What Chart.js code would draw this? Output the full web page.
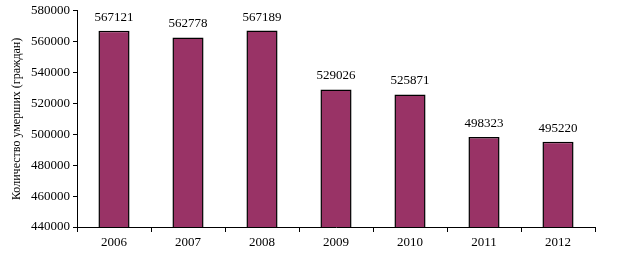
<!DOCTYPE html>
<html>
<head>
<meta charset="utf-8">
<script src="https://cdn.jsdelivr.net/npm/chart.js@4"></script>
<style>
  html, body { margin: 0; padding: 0; background: #fff; }
  #wrap { width: 619px; height: 253px; }
</style>
</head>
<body>
<div id="wrap"><canvas id="deaths"></canvas></div>
<script>
"use strict";

const years = ["2006", "2007", "2008", "2009", "2010", "2011", "2012"];
const deaths = [567121, 562778, 567189, 529026, 525871, 498323, 495220];
const yMin = 440000;
const yMax = 580000;
const yStep = 20000;

const serif = "'Liberation Serif', 'Times New Roman', serif";

// values printed above each bar
const barLabels = {
  id: "barLabels",
  afterDatasetsDraw(chart) {
    const ctx = chart.ctx;
    const meta = chart.getDatasetMeta(0);
    ctx.save();
    ctx.font = "13px " + serif;
    ctx.fillStyle = "#000";
    ctx.textAlign = "center";
    ctx.textBaseline = "bottom";
    meta.data.forEach((bar, i) => {
      ctx.fillText(String(deaths[i]), bar.x, bar.y - 7);
    });
    ctx.restore();
  },
};

var ctx = document.getElementById("deaths").getContext("2d");
var chart = new Chart(ctx, {
  type: "bar",
  data: {
    labels: years,
    datasets: [
      {
        data: deaths,
        backgroundColor: "#993366",
        borderColor: "#000",
        borderWidth: 1.5,
        borderSkipped: false,
        categoryPercentage: 1,
        barPercentage: 0.42,
      },
    ],
  },
  options: {
    responsive: true,
    maintainAspectRatio: false,
    animation: false,
    layout: { padding: { top: 9, right: 24, left: 0, bottom: 0 } },
    plugins: {
      legend: { display: false },
      tooltip: { enabled: false },
    },
    scales: {
      x: {
        grid: {
          offset: true,
          drawOnChartArea: false,
          color: "#000",
          tickLength: 5,
        },
        border: { color: "#000" },
        ticks: { color: "#000", font: { family: serif, size: 13 }, padding: 3 },
        afterFit: (s) => { s.height = 26; },
      },
      y: {
        min: yMin,
        max: yMax,
        grid: {
          drawOnChartArea: false,
          color: "#000",
          tickLength: 4,
        },
        border: { color: "#000" },
        ticks: {
          stepSize: yStep,
          color: "#000",
          font: { family: serif, size: 13 },
          padding: 3,
          callback: (v) => String(v),
        },
        title: {
          display: true,
          text: "Количество умерших (граждан)",
          color: "#000",
          font: { family: serif, size: 12 },
          padding: { top: 10, bottom: 0 },
        },
        afterFit: (s) => { s.width = 77; },
      },
    },
  },
  plugins: [barLabels],
});
</script>
</body>
</html>
